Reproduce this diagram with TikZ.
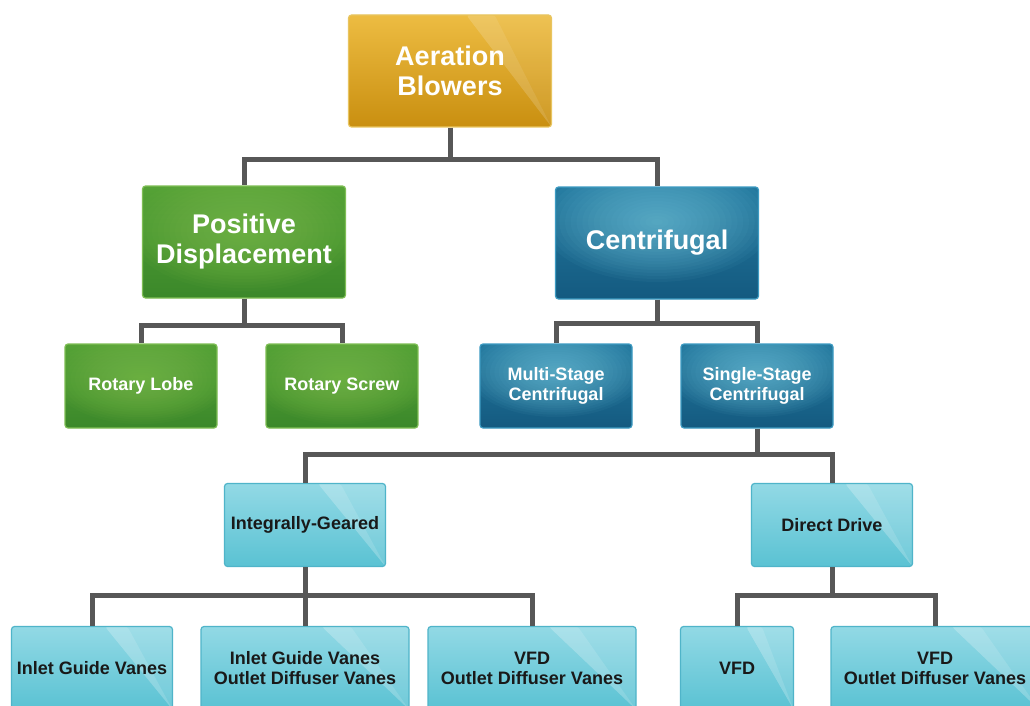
\documentclass[tikz,border=0pt]{standalone}
\usepackage{fontspec}
\setmainfont{Liberation Sans}
\usetikzlibrary{calc}

\definecolor{goldTop}{HTML}{EDBC42}
\definecolor{goldBot}{HTML}{C98F10}
\definecolor{goldLine}{HTML}{E8C560}
\definecolor{greenTop}{HTML}{55A236}
\definecolor{greenBot}{HTML}{3B882A}
\definecolor{greenGlow}{HTML}{86C452}
\definecolor{greenLine}{HTML}{7FBE55}
\definecolor{blueTop}{HTML}{23799F}
\definecolor{blueBot}{HTML}{145A80}
\definecolor{blueGlow}{HTML}{7ACCE2}
\definecolor{blueLine}{HTML}{3D9BC2}
\definecolor{cyanTop}{HTML}{92D9E5}
\definecolor{cyanBot}{HTML}{5AC2D3}
\definecolor{cyanLine}{HTML}{4FB4C9}
\definecolor{linkGray}{HTML}{575757}

% glossy diagonal band on the right side of a box
\newcommand{\glossband}[1]{%
  \fill[white, opacity=#1]
    ($(path picture bounding box.north west)!.58!(path picture bounding box.north east)$) --
    (path picture bounding box.north east) --
    (path picture bounding box.south east) -- cycle;
  \fill[white, opacity=#1]
    ($(path picture bounding box.north west)!.58!(path picture bounding box.north east)$) --
    ($(path picture bounding box.north west)!.72!(path picture bounding box.north east)$) --
    (path picture bounding box.south east) -- cycle;}

% soft light near the top middle of a box
\newcommand{\topglow}[4]{%
  \foreach \k in {1,...,20}
    \fill[#1, opacity=.05]
      ($(path picture bounding box.north)+(0,#2)$)
      ellipse [x radius={#3*\k/20}, y radius={#4*\k/20}];}

\begin{document}
\begin{tikzpicture}[x=1pt, y=-1pt,
    link/.style={draw=linkGray, line width=5pt, line join=miter},
    box/.style={rounded corners=3pt, line width=1.2pt, inner sep=0pt,
        align=center, text=white},
    bigtext/.style={font=\fontsize{27}{30}\selectfont\bfseries},
    smalltext/.style={font=\fontsize{18}{20}\selectfont\bfseries},
    bigsize/.style={minimum width=203pt, minimum height=112pt},
    midsize/.style={minimum width=152pt, minimum height=84pt},
    goldbox/.style={box, bigtext, bigsize, draw=goldLine,
        top color=goldTop, bottom color=goldBot, path picture={\glossband{.09}}},
    greenbox/.style={box, draw=greenLine,
        top color=greenTop, bottom color=greenBot},
    bluebox/.style={box, draw=blueLine,
        top color=blueTop, bottom color=blueBot},
    cyanbox/.style={box, smalltext, text=black!90, draw=cyanLine,
        minimum height=83pt, top color=cyanTop, bottom color=cyanBot,
        path picture={\glossband{.13}}}
]

    \useasboundingbox (0,0) rectangle (1030,706);
    \fill[white] (0,0) rectangle (1030,706);

    % 1. Root
    \node[goldbox] (root) at (450,71) {Aeration\\Blowers};

    % 2. Main types
    \node[greenbox, bigtext, bigsize,
        path picture={\topglow{greenGlow}{45}{115}{60}}]
        (pd) at (244,242) {Positive\\Displacement};
    \node[bluebox, bigtext, bigsize,
        path picture={\topglow{blueGlow}{35}{115}{60}}]
        (cf) at (657,243) {Centrifugal};

    % 3. Positive displacement types
    \node[greenbox, smalltext, midsize,
        path picture={\topglow{greenGlow}{35}{88}{45}}]
        (lobe) at (141,386) {Rotary Lobe};
    \node[greenbox, smalltext, midsize,
        path picture={\topglow{greenGlow}{35}{88}{45}}]
        (screw) at (342,386) {Rotary Screw};

    % 4. Centrifugal types
    \node[bluebox, smalltext, midsize,
        path picture={\topglow{blueGlow}{28}{88}{45}}]
        (multi) at (556,386) {Multi-Stage\\Centrifugal};
    \node[bluebox, smalltext, midsize,
        path picture={\topglow{blueGlow}{28}{88}{45}}]
        (single) at (757,386) {Single-Stage\\Centrifugal};

    % 5. Single-stage drives
    \node[cyanbox, minimum width=161pt] (ig) at (305,525) {Integrally-Geared};
    \node[cyanbox, minimum width=161pt] (dd) at (832,525) {Direct Drive};

    % 6. Control options
    \node[cyanbox, minimum width=161pt] (igv) at (92,668) {Inlet Guide Vanes};
    \node[cyanbox, minimum width=208pt] (igvodv) at (305,668)
        {Inlet Guide Vanes\\Outlet Diffuser Vanes};
    \node[cyanbox, minimum width=208pt] (vfdodv) at (532,668)
        {VFD\\Outlet Diffuser Vanes};
    \node[cyanbox, minimum width=113pt] (vfd) at (737,668) {VFD};
    \node[cyanbox, minimum width=208pt] (ddodv) at (935,668)
        {VFD\\Outlet Diffuser Vanes};

    % 7. Connectors
    \coordinate (j1) at (450,159);
    \coordinate (j2) at (244,325);
    \coordinate (j3) at (657,323);
    \coordinate (j4) at (757,454);
    \coordinate (j5) at (305,595);
    \coordinate (j6) at (832,595);

    \draw[link] (root.south) -- (j1) -| (pd.north);
    \draw[link] (j1) -| (cf.north);
    \draw[link] (pd.south) -- (j2) -| (lobe.north);
    \draw[link] (j2) -| (screw.north);
    \draw[link] (cf.south) -- (j3) -| (multi.north);
    \draw[link] (j3) -| (single.north);
    \draw[link] (single.south) -- (j4) -| (ig.north);
    \draw[link] (j4) -| (dd.north);
    \draw[link] (ig.south) -- (j5) -| (igv.north);
    \draw[link] (j5) -- (igvodv.north);
    \draw[link] (j5) -| (vfdodv.north);
    \draw[link] (dd.south) -- (j6) -| (vfd.north);
    \draw[link] (j6) -| (ddodv.north);

\end{tikzpicture}
\end{document}
